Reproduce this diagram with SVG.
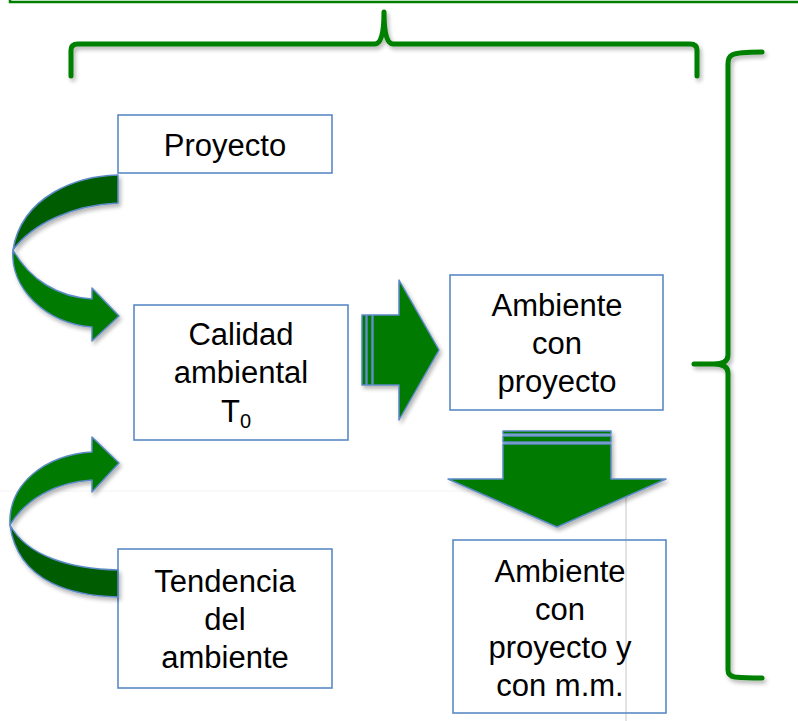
<svg xmlns="http://www.w3.org/2000/svg" width="798" height="721" viewBox="0 0 798 721">
<style>
.box{fill:none;stroke:#5b8ac6;stroke-width:1.6}
.t{font-family:"Liberation Sans",Arial,sans-serif;font-size:31px;fill:#000;text-anchor:middle}
.brace{fill:none;stroke:#008000;stroke-width:5;stroke-linecap:round;stroke-linejoin:round}
.ar{fill:#007a00;stroke:#5b8ac6;stroke-width:1.5;stroke-linejoin:round}
.ard{fill:#005c00;stroke:#5b8ac6;stroke-width:1.5;stroke-linejoin:round}
</style>
<defs>
<filter id="sh" x="-10%" y="-10%" width="130%" height="130%">
<feGaussianBlur in="SourceAlpha" stdDeviation="2"/>
<feOffset dx="2" dy="3" result="b"/>
<feComponentTransfer><feFuncA type="linear" slope="0.3"/></feComponentTransfer>
<feMerge><feMergeNode/><feMergeNode in="SourceGraphic"/></feMerge>
</filter>
</defs>
<rect width="798" height="721" fill="#fff"/>
<path d="M10,-2 V2 H800" fill="none" stroke="#008000" stroke-width="2.5"/>
<line x1="0" y1="491" x2="626" y2="491" stroke="#f3f3f3" stroke-width="1"/>
<line x1="626" y1="491" x2="626" y2="721" stroke="#d9d9d9" stroke-width="1.5"/>

<g id="brace-top" filter="url(#sh)">
<path class="brace" d="M71,76 V50 Q71,44 78,44 H375 Q384,44 384,12 Q384,44 393,44 H690 Q697,44 697,50 V76"/>
</g>
<g id="brace-right" filter="url(#sh)">
<path class="brace" d="M762,52 Q738,52 732,55 Q728,57 728,64 V355 Q728,364 714,364 H694 H714 Q728,364 728,373 V670 Q728,676 735,677 Q745,678 762,678"/>
</g>

<g id="node-proyecto">
<rect class="box" x="118" y="115" width="214" height="58"/>
<text class="t" x="225" y="156">Proyecto</text>
</g>
<g id="node-calidad">
<rect class="box" x="134" y="305" width="214" height="135"/>
<text class="t" x="241" y="345">Calidad</text>
<text class="t" x="241" y="383">ambiental</text>
<text class="t" x="236" y="422">T<tspan font-size="20" dy="6">0</tspan></text>
</g>
<g id="node-ambiente-con-proyecto">
<rect class="box" x="450" y="275" width="213" height="135"/>
<text class="t" x="557" y="316">Ambiente</text>
<text class="t" x="557" y="354">con</text>
<text class="t" x="557" y="392">proyecto</text>
</g>
<g id="node-ambiente-mm">
<rect class="box" x="453" y="540" width="213" height="173"/>
<text class="t" x="560" y="582">Ambiente</text>
<text class="t" x="560" y="620">con</text>
<text class="t" x="560" y="658">proyecto y</text>
<text class="t" x="560" y="696">con m.m.</text>
</g>
<g id="node-tendencia">
<rect class="box" x="118" y="549" width="214" height="139"/>
<text class="t" x="225" y="592">Tendencia</text>
<text class="t" x="225" y="630">del</text>
<text class="t" x="225" y="668">ambiente</text>
</g>

<g id="connectors">
<g id="arrow-right" filter="url(#sh)">
<rect class="ar" x="362" y="315" width="4" height="70" fill="#5b8ac6"/>
<rect class="ar" x="367" y="315" width="5" height="70"/>
<path class="ar" d="M373,315 H399 V280 L439,350 L399,420 V385 H373 Z"/>
</g>
<g id="arrow-down" filter="url(#sh)">
<rect class="ar" x="503" y="431" width="108" height="3"/>
<rect class="ar" x="503" y="436" width="108" height="6"/>
<path class="ar" d="M503,444 H611 V479 H666 L557,527 L448,479 H503 Z"/>
</g>
<g id="curved-arrow-top" filter="url(#sh)">
<path class="ard" d="M118,175 C78,176 22,195 13,250 C32,224 72,205 118,203 Z"/>
<path class="ar" d="M13,250 C10,288 45,323 92,327 V341 L119,316 L92,288 V299 C58,297 30,280 13,250 Z"/>
</g>
<g id="curved-arrow-bottom" filter="url(#sh)">
<path class="ard" d="M118,597 C78,596 18,585 10,525 C27,556 70,569 118,570 Z"/>
<path class="ar" d="M10,525 C8,484 45,455 92,452 V437 L119,463 L92,492 V480 C55,482 25,500 10,525 Z"/>
</g>
</g>
</svg>
